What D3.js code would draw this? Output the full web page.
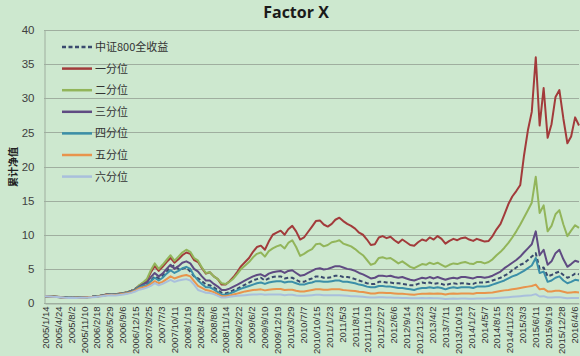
<!DOCTYPE html>
<html><head><meta charset="utf-8">
<script src="https://cdn.jsdelivr.net/npm/d3@7"></script>
<style>html,body{margin:0;padding:0;background:#cde8cf;} svg{display:block}</style>
</head><body><svg id="c" width="580" height="356"></svg>
<script>
const tickLabels = ["2005/1/14","2005/4/24","2005/8/2","2005/11/10","2006/2/18","2006/5/29","2006/9/6","2006/12/15","2007/3/25","2007/7/3","2007/10/11","2008/1/19","2008/4/28","2008/8/6","2008/11/14","2009/2/22","2009/6/2","2009/9/10","2009/12/19","2010/3/29","2010/7/7","2010/10/15","2011/1/23","2011/5/3","2011/8/11","2011/11/19","2012/2/27","2012/6/6","2012/9/14","2012/12/23","2013/4/2","2013/7/11","2013/10/19","2014/1/27","2014/5/7","2014/8/15","2014/11/23","2015/3/3","2015/6/11","2015/9/19","2015/12/28","2016/4/6"];
const yTicks = [0,5,10,15,20,25,30,35,40];
const seriesNames = ["中证800全收益","一分位","二分位","三分位","四分位","五分位","六分位"];

const csi800 = [1.00,0.96,0.93,0.89,0.85,0.80,0.78,0.81,0.80,0.82,0.84,0.86,0.90,0.97,1.04,1.15,1.25,1.28,1.24,1.33,1.44,1.58,1.80,2.10,2.45,2.55,
2.7,3.3,3.9,3.6,4.0,4.6,5.3,5.5,5.0,5.0,5.2,4.6,3.9,
3.6,3.2,2.7,2.6,2.3,1.9,1.5,1.4,1.6,1.9,2.1,2.4,2.7,3.0,3.3,3.5,3.7,3.3,3.6,3.8,
3.9,3.9,3.6,3.7,3.7,3.4,3.1,3.1,3.4,3.6,3.9,3.9,3.7,3.7,3.8,4.0,4.0,3.8,3.8,3.7,
3.5,3.3,3.1,2.9,2.8,2.8,3.1,3.1,3.0,3.0,2.9,2.9,2.8,2.7,2.6,2.6,2.8,3.0,2.9,3.0,
2.8,2.9,2.8,2.6,2.8,2.9,2.8,2.9,2.9,2.8,2.8,3.0,3.0,3.0,3.1,3.3,3.5,3.7,4.0,4.3,
4.8,5.2,5.6,5.8,6.3,6.8,7.3,5.0,5.2,3.9,4.1,4.4,4.6,4.1,3.7,3.9,4.3,4.2];

const q1 = [1.00,0.97,0.94,0.91,0.87,0.81,0.78,0.81,0.80,0.82,0.85,0.88,0.92,0.99,1.05,1.16,1.27,1.33,1.29,1.38,1.48,1.58,1.76,2.00,2.55,2.95,
3.3,4.5,5.4,4.7,5.3,6.0,6.6,5.9,6.4,7.0,7.4,7.2,6.3,
6.0,5.1,4.3,4.5,3.9,3.5,2.7,2.7,3.2,3.8,4.6,5.4,6.0,6.6,7.5,8.2,8.4,7.8,9.0,10.0,
10.3,10.6,10.0,10.8,11.3,10.5,9.3,9.6,10.4,11.2,12.0,12.1,11.5,11.2,11.6,12.2,12.5,12.0,11.6,11.3,
10.9,10.3,10.0,9.3,8.5,8.6,9.6,9.8,9.5,9.7,9.2,8.8,9.3,8.9,8.5,8.4,8.9,9.3,9.1,9.6,
9.3,9.8,9.4,8.7,9.1,9.4,9.2,9.5,9.6,9.3,9.1,9.4,9.2,9.0,9.1,9.8,10.8,11.6,13.0,14.5,
15.6,16.4,17.3,21.5,25.3,28.0,36.0,26.0,31.5,24.2,26.2,30.2,31.2,27.0,23.4,24.4,27.2,26.0];

const q2 = [1.00,0.97,0.94,0.91,0.87,0.81,0.78,0.81,0.79,0.82,0.85,0.88,0.92,0.98,1.05,1.15,1.26,1.33,1.29,1.37,1.47,1.57,1.75,2.00,2.60,3.05,
3.5,4.8,5.8,5.0,5.6,6.3,7.0,6.2,6.8,7.4,7.8,7.5,6.6,
6.2,5.2,4.4,4.5,3.9,3.5,2.9,2.8,3.1,3.6,4.3,5.0,5.5,6.0,6.7,7.2,7.4,6.8,7.6,8.0,
8.3,8.5,8.0,8.8,9.2,8.2,6.9,7.2,7.6,7.9,8.6,8.7,8.3,8.5,8.9,9.0,9.2,8.7,8.5,8.3,
7.9,7.4,7.0,6.3,5.6,5.8,6.6,6.7,6.5,6.6,6.2,5.8,6.1,5.7,5.3,5.1,5.4,5.7,5.6,5.9,
5.7,5.9,5.6,5.3,5.6,5.8,5.7,5.9,6.0,5.8,5.7,6.0,6.0,5.8,6.0,6.4,7.0,7.5,8.1,8.8,
9.6,10.5,11.5,12.5,13.6,14.7,18.5,13.2,14.3,10.5,11.3,13.0,13.6,11.5,9.8,10.6,11.4,11.0];

const q3 = [1.00,0.97,0.93,0.90,0.86,0.80,0.77,0.80,0.78,0.81,0.84,0.87,0.91,0.97,1.03,1.13,1.23,1.29,1.25,1.33,1.43,1.53,1.71,1.95,2.40,2.75,
3.0,3.8,4.4,3.9,4.3,5.0,5.6,5.0,5.4,5.9,6.1,5.8,5.0,
4.6,3.9,3.3,3.3,2.8,2.4,1.9,1.9,2.1,2.4,2.7,3.0,3.3,3.6,3.9,4.1,4.2,3.9,4.3,4.5,
4.6,4.7,4.4,4.7,4.8,4.4,4.0,4.1,4.4,4.7,5.0,5.1,4.9,5.0,5.2,5.4,5.4,5.2,5.0,4.9,
4.7,4.4,4.2,3.9,3.6,3.7,4.0,4.0,3.9,4.0,3.8,3.7,3.8,3.6,3.4,3.3,3.5,3.7,3.6,3.8,
3.6,3.8,3.6,3.4,3.6,3.7,3.6,3.8,3.8,3.7,3.6,3.8,3.8,3.7,3.8,4.0,4.3,4.6,5.1,5.5,
5.9,6.3,6.8,7.4,8.0,8.6,10.5,7.0,7.8,5.6,6.1,7.3,7.8,6.4,5.3,5.7,6.2,6.0];

const q4 = [1.00,0.97,0.93,0.89,0.85,0.79,0.76,0.79,0.77,0.79,0.82,0.85,0.89,0.95,1.01,1.10,1.20,1.26,1.22,1.30,1.39,1.49,1.66,1.90,2.30,2.55,
2.6,3.2,3.7,3.3,3.7,4.3,4.8,4.4,4.7,5.1,5.3,5.0,4.0,
3.3,2.8,2.3,2.3,2.0,1.6,1.25,1.2,1.4,1.6,1.9,2.1,2.3,2.5,2.7,2.9,3.0,2.8,3.0,3.1,
3.2,3.2,3.0,3.1,3.1,2.9,2.7,2.7,2.9,3.0,3.2,3.2,3.1,3.1,3.2,3.3,3.3,3.1,3.1,3.0,
2.9,2.7,2.6,2.4,2.3,2.3,2.5,2.5,2.4,2.4,2.3,2.2,2.2,2.1,2.0,1.9,2.1,2.2,2.2,2.3,
2.2,2.3,2.2,2.0,2.2,2.3,2.2,2.3,2.3,2.3,2.2,2.4,2.4,2.4,2.5,2.7,2.9,3.1,3.3,3.6,
3.9,4.1,4.4,4.7,5.1,5.5,6.6,4.4,4.6,3.1,3.3,3.7,3.9,3.3,2.9,3.1,3.4,3.3];

const q5 = [1.00,0.96,0.92,0.88,0.84,0.78,0.75,0.78,0.76,0.78,0.80,0.83,0.87,0.92,0.98,1.07,1.16,1.22,1.18,1.25,1.34,1.43,1.58,1.80,2.15,2.30,
2.45,2.8,3.2,2.9,3.1,3.5,3.9,3.6,3.8,4.0,4.1,3.9,3.2,
2.5,2.2,1.9,1.8,1.6,1.3,1.0,1.0,1.1,1.25,1.4,1.55,1.7,1.8,1.9,1.95,2.0,1.85,1.95,2.0,
2.05,2.05,1.9,1.95,1.95,1.8,1.7,1.7,1.8,1.9,2.0,2.0,1.95,1.95,2.0,2.0,2.0,1.9,1.85,1.8,
1.75,1.65,1.6,1.5,1.4,1.4,1.5,1.5,1.45,1.45,1.4,1.35,1.35,1.3,1.25,1.2,1.3,1.35,1.35,1.4,
1.35,1.4,1.35,1.25,1.35,1.4,1.35,1.4,1.4,1.4,1.35,1.45,1.45,1.45,1.5,1.55,1.65,1.75,1.85,1.9,
2.0,2.1,2.2,2.3,2.4,2.5,2.7,2.0,2.1,1.7,1.7,1.8,1.8,1.65,1.5,1.55,1.6,1.55];

const q6 = [1.00,0.96,0.91,0.87,0.83,0.77,0.73,0.76,0.74,0.76,0.78,0.80,0.84,0.89,0.94,1.02,1.10,1.15,1.11,1.18,1.26,1.34,1.48,1.68,1.95,2.10,
2.25,2.5,2.9,2.6,2.8,3.1,3.4,3.1,3.3,3.4,3.5,3.3,2.7,
1.9,1.7,1.5,1.45,1.3,1.05,0.8,0.8,0.9,1.0,1.05,1.1,1.15,1.2,1.25,1.25,1.3,1.2,1.25,1.25,
1.25,1.25,1.15,1.2,1.2,1.1,1.05,1.05,1.1,1.15,1.2,1.2,1.15,1.15,1.15,1.15,1.15,1.1,1.05,1.0,
1.0,0.95,0.9,0.85,0.8,0.8,0.85,0.85,0.8,0.8,0.78,0.76,0.75,0.72,0.7,0.68,0.7,0.72,0.7,0.72,
0.68,0.68,0.65,0.6,0.63,0.65,0.63,0.65,0.65,0.64,0.62,0.66,0.66,0.66,0.68,0.7,0.74,0.78,0.82,0.86,
0.9,0.95,1.0,1.05,1.1,1.15,1.3,0.95,1.0,0.8,0.8,0.85,0.86,0.78,0.7,0.72,0.74,0.72];

// monthly sample dates (category axis of the series)
const startDate = new Date(2005, 0, 14);
const dates = q1.map((_, i) => d3.timeMonth.offset(startDate, i));

const allSeries = [csi800, q1, q2, q3, q4, q5, q6];
const colors = ["#3a4a6e", "#a23b3b", "#92b55a", "#5f4b82", "#3b8fa8", "#e8944c", "#a9bfdc"];
const dashes = ["4,2.5", null, null, null, null, null, null];

const svg = d3.select("#c");
const W = 580, H = 356;
svg.append("rect").attr("width", W).attr("height", H).attr("fill", "#cde8cf");

const parse = d3.timeParse("%Y/%m/%d");
const fmt = d3.timeFormat("%Y/%-m/%-d");
const tickDates = tickLabels.map(parse);

const x = d3.scaleTime().domain([startDate, dates[dates.length - 1]]).range([45, 579]);
const y = d3.scaleLinear().domain([0, 40]).range([303, 30]);

// gridlines
svg.append("g").selectAll("line").data(yTicks).join("line")
  .attr("x1", 44).attr("x2", 579)
  .attr("y1", d => Math.round(y(d)) + 0.5).attr("y2", d => Math.round(y(d)) + 0.5)
  .attr("stroke", "#9fae9f").attr("stroke-width", 1);

// y axis
const yAxis = svg.append("g").attr("transform", "translate(44.5,0)")
  .call(d3.axisLeft(y).tickValues(yTicks).tickSize(0).tickPadding(10));
yAxis.select(".domain").attr("stroke", "#9fae9f");
yAxis.selectAll("text").attr("font-family", "Liberation Sans, Arial, sans-serif")
  .attr("font-size", 11.5).attr("fill", "#404040");

// x axis
const xAxis = svg.append("g").attr("transform", "translate(0,303.5)")
  .call(d3.axisBottom(x).tickValues(tickDates).tickFormat(fmt).tickSize(0).tickSizeOuter(0));
xAxis.select(".domain").attr("stroke", "#9fae9f");
xAxis.selectAll("text")
  .attr("font-family", "Liberation Sans, Arial, sans-serif").attr("font-size", 9.5).attr("fill", "#333")
  .attr("text-anchor", "end").attr("transform", "rotate(-90)")
  .attr("x", -3).attr("y", 0).attr("dy", "0.35em");

// lines
const line = d3.line().x((d, i) => x(dates[i])).y(d => y(d));
allSeries.forEach((s, k) => {
  svg.append("path").datum(s).attr("d", line)
    .attr("fill", "none").attr("stroke", colors[k]).attr("stroke-width", 2)
    .attr("stroke-linejoin", "round")
    .attr("stroke-dasharray", dashes[k]);
});

// legend
const lg = svg.append("g");
seriesNames.forEach((n, k) => {
  const yy = 47 + k * 21.6;
  lg.append("line").attr("x1", 62).attr("x2", 92).attr("y1", yy).attr("y2", yy)
    .attr("stroke", colors[k]).attr("stroke-width", 2.5).attr("stroke-dasharray", dashes[k]);
  lg.append("text").attr("x", 95).attr("y", yy).attr("dy", "0.36em")
    .attr("font-family", "Noto Sans CJK SC, sans-serif").attr("font-size", 11)
    .attr("fill", "#333").text(n);
});

// title
svg.append("text").attr("x", 296).attr("y", 18).attr("text-anchor", "middle")
  .attr("font-family", "Open Sans, Liberation Sans, sans-serif").attr("font-weight", "bold")
  .attr("font-size", 16).attr("fill", "#1a1a1a").text("Factor X");

// y axis title
svg.append("text").attr("transform", "translate(13,167) rotate(-90)").attr("text-anchor", "middle")
  .attr("dy", "0.35em")
  .attr("font-family", "Noto Sans CJK SC, sans-serif").attr("font-weight", "bold")
  .attr("font-size", 10).attr("fill", "#222").text("累计净值");
</script></body></html>
